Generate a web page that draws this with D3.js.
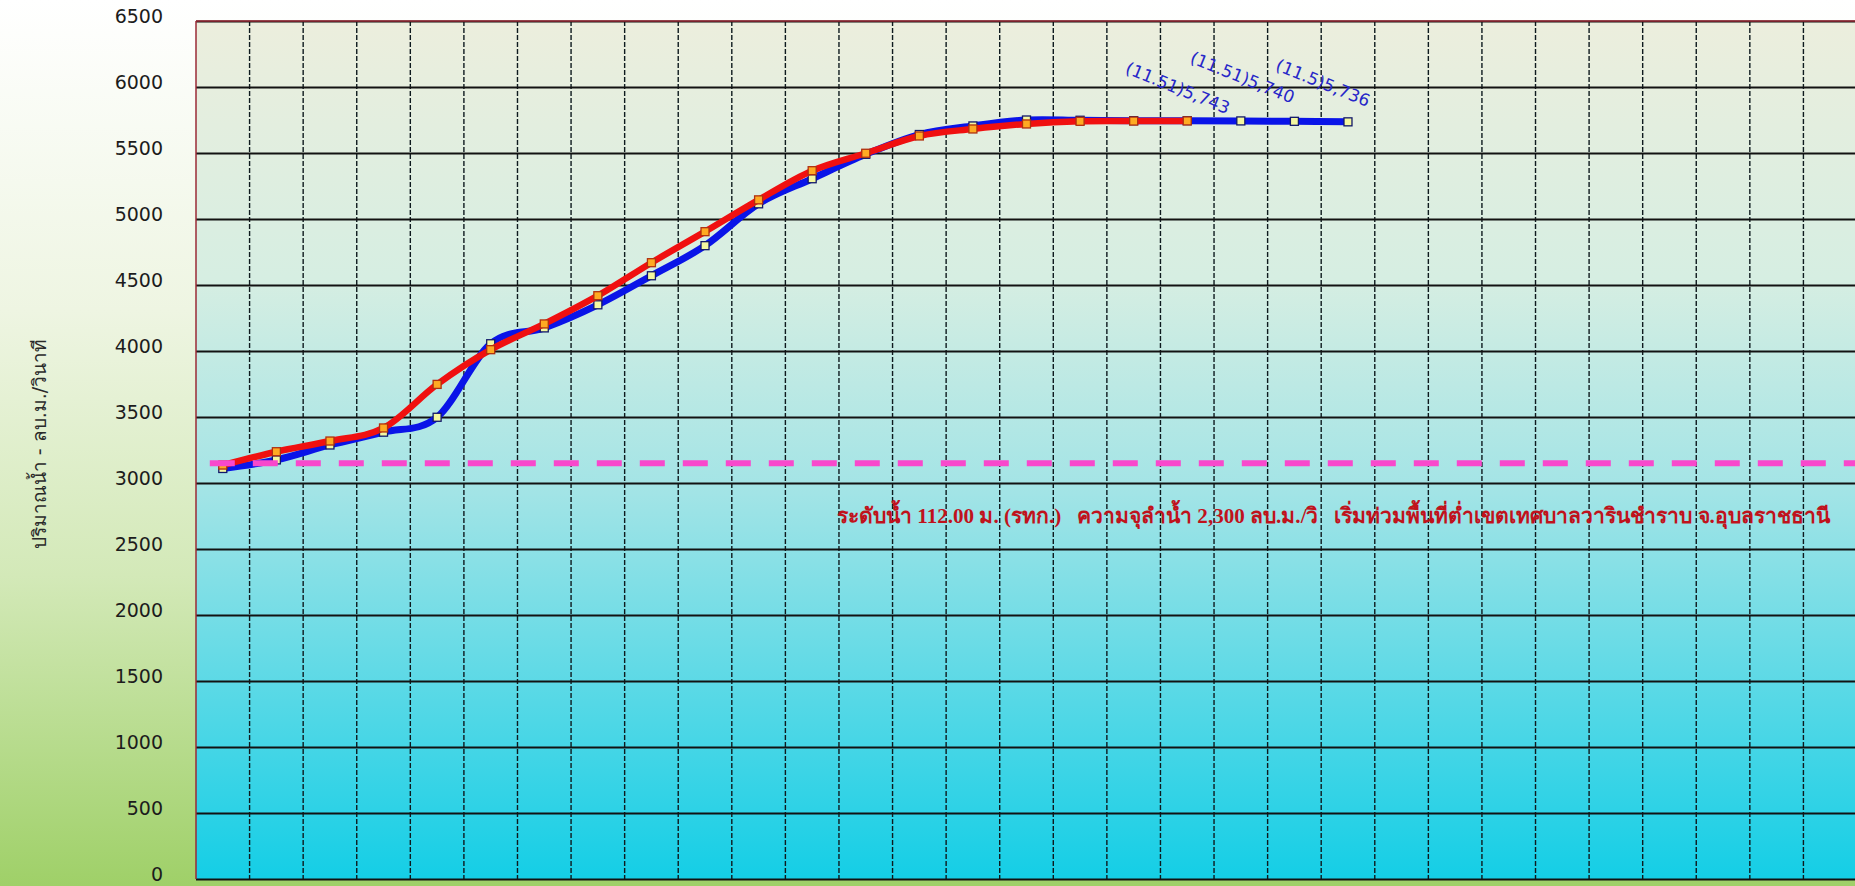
<!DOCTYPE html>
<html><head><meta charset="utf-8">
<script src="https://cdn.jsdelivr.net/npm/d3@7"></script>
<style>html,body{margin:0;padding:0;overflow:hidden;background:#fff}</style>
</head><body>
<svg id="chart" width="1855" height="886"></svg>
<script>
// ---------- data ----------
const days = d3.range(1, 32).map(String);           // 31 category slots (no visible labels)
const flowCurrent = [3110, 3175, 3288, 3385, 3498, 4055, 4175, 4350, 4570, 4798, 5115,
                     5305, 5490, 5640, 5705, 5750, 5748, 5745, 5745, 5743, 5740, 5736];
const flowPrevious = [3136, 3237, 3318, 3417, 3747, 4010, 4205, 4419, 4669, 4904, 5145,
                      5366, 5498, 5629, 5682, 5720, 5740, 5742, 5743];
const criticalFlow = 3150;
const yTicks = [0, 500, 1000, 1500, 2000, 2500, 3000, 3500, 4000, 4500, 5000, 5500, 6000, 6500];
const labelIndex = [19, 20, 21];
const labelText = ["(11.51)5,743", "(11.51)5,740", "(11.5)5,736"];
const yTitle = "ปริมาณน้ำ - ลบ.ม./วินาที";
const noteText = "ระดับน้ำ 112.00 ม. (รทก.)   ความจุลำน้ำ 2,300 ลบ.ม./วิ   เริ่มท่วมพื้นที่ต่ำเขตเทศบาลวารินชำราบ จ.อุบลราชธานี";

// ---------- layout ----------
const W = 1855, H = 886;
const plot = {left: 196, right: 1857, top: 21, bottom: 879};
const svg = d3.select("#chart");
const defs = svg.append("defs");

const bg = defs.append("linearGradient").attr("id", "bg").attr("x1", 0).attr("y1", 0).attr("x2", 0).attr("y2", 1);
bg.append("stop").attr("offset", "0%").attr("stop-color", "#ffffff");
bg.append("stop").attr("offset", "35%").attr("stop-color", "#eef5e2");
bg.append("stop").attr("offset", "65%").attr("stop-color", "#d3e9b8");
bg.append("stop").attr("offset", "100%").attr("stop-color", "#9fd068");

const pg = defs.append("linearGradient").attr("id", "pg").attr("x1", 0).attr("y1", 0).attr("x2", 0).attr("y2", 1);
pg.append("stop").attr("offset", "0%").attr("stop-color", "#eceedd");
pg.append("stop").attr("offset", "30%").attr("stop-color", "#d6eee2");
pg.append("stop").attr("offset", "55%").attr("stop-color", "#a2e4e6");
pg.append("stop").attr("offset", "100%").attr("stop-color", "#14cee6");

svg.append("rect").attr("width", W).attr("height", H).attr("fill", "url(#bg)");

const x = d3.scaleBand().domain(days).range([plot.left, plot.right]).paddingInner(0).paddingOuter(0);
const y = d3.scaleLinear().domain([0, 6500]).range([plot.bottom, plot.top]);
const cx = i => x(days[i]) + x.bandwidth() / 2;

svg.append("rect").attr("x", plot.left).attr("y", plot.top)
  .attr("width", plot.right - plot.left).attr("height", plot.bottom - plot.top)
  .attr("fill", "url(#pg)");

// vertical dashed gridlines at band boundaries
svg.append("g").selectAll("line").data(days.slice(1)).join("line")
  .attr("x1", d => x(d)).attr("x2", d => x(d))
  .attr("y1", plot.top).attr("y2", plot.bottom)
  .attr("stroke", "#0e1a1e").attr("stroke-width", 1.4).attr("stroke-dasharray", "5,2");

// horizontal gridlines + y axis labels
const yAxis = d3.axisLeft(y).tickValues(yTicks).tickSize(-(plot.right - plot.left)).tickPadding(33).tickFormat(d3.format("d"));
const gy = svg.append("g").attr("transform", `translate(${plot.left},0)`).call(yAxis);
gy.select(".domain").remove();
gy.selectAll(".tick line").attr("stroke", "#121212").attr("stroke-width", 1.8);
gy.selectAll(".tick text").attr("font-family", "DejaVu Sans, Verdana, sans-serif")
  .attr("font-size", 19).attr("fill", "#1c1c1c").attr("dy", "0.1em");

// plot border (top / left dark red)
svg.append("line").attr("x1", plot.left).attr("x2", plot.right).attr("y1", plot.top).attr("y2", plot.top)
  .attr("stroke", "#9a2a36").attr("stroke-width", 1.5);
svg.append("line").attr("x1", plot.left).attr("x2", plot.left).attr("y1", plot.top).attr("y2", plot.bottom)
  .attr("stroke", "#9a2a36").attr("stroke-width", 1.5);

// y title
svg.append("text").attr("transform", `translate(46,444) rotate(-90)`)
  .attr("text-anchor", "middle").attr("font-family", "DejaVu Sans, Tahoma, sans-serif")
  .attr("font-size", 19).attr("fill", "#2a2a2a").text(yTitle);

// lines
const line = d3.line().x((d, i) => cx(i)).y(d => y(d)).curve(d3.curveCatmullRom.alpha(0));

svg.append("path").datum(flowCurrent).attr("d", line).attr("fill", "none")
  .attr("stroke", "#0a14e8").attr("stroke-width", 7).attr("stroke-linejoin", "round").attr("stroke-linecap", "round");
svg.append("g").selectAll("rect").data(flowCurrent).join("rect")
  .attr("x", (d, i) => cx(i) - 4).attr("y", d => y(d) - 4).attr("width", 8).attr("height", 8)
  .attr("fill", "#f4f7a0").attr("stroke", "#12186a").attr("stroke-width", 1.3);

svg.append("path").datum(flowPrevious).attr("d", line).attr("fill", "none")
  .attr("stroke", "#f01010").attr("stroke-width", 6.5).attr("stroke-linejoin", "round").attr("stroke-linecap", "round");
svg.append("g").selectAll("rect").data(flowPrevious).join("rect")
  .attr("x", (d, i) => cx(i) - 4).attr("y", d => y(d) - 4).attr("width", 8).attr("height", 8)
  .attr("fill", "#ffaa22").attr("stroke", "#b03010").attr("stroke-width", 1.3);

// critical flow dashed magenta line
svg.append("line").attr("x1", cx(0) - 13).attr("x2", plot.right)
  .attr("y1", y(criticalFlow)).attr("y2", y(criticalFlow))
  .attr("stroke", "#f948cc").attr("stroke-width", 6).attr("stroke-dasharray", "25,18");

// rotated value labels for the current series
const labelOffsets = [[-63, -33], [-52, -44], [-25, -39]];
svg.append("g").selectAll("text").data(labelIndex).join("text")
  .attr("transform", (d, k) => `translate(${cx(d) + labelOffsets[k][0]},${y(flowCurrent[d]) + labelOffsets[k][1]}) rotate(22)`)
  .attr("text-anchor", "middle").attr("dominant-baseline", "central")
  .attr("font-family", "DejaVu Sans, Verdana, sans-serif").attr("font-size", 17)
  .attr("fill", "#2626c8")
  .text((d, k) => labelText[k]);

// annotation text
const note = svg.append("text").attr("x", 837).attr("y", 523)
  .attr("font-family", "Liberation Serif, Times New Roman, serif").attr("font-weight", "bold")
  .attr("font-size", 22).attr("fill", "#c0121c").style("white-space", "pre")
  .text(noteText);
const len = note.node().getComputedTextLength();
note.attr("font-size", 22 * 997 / len);
</script>
</body></html>
